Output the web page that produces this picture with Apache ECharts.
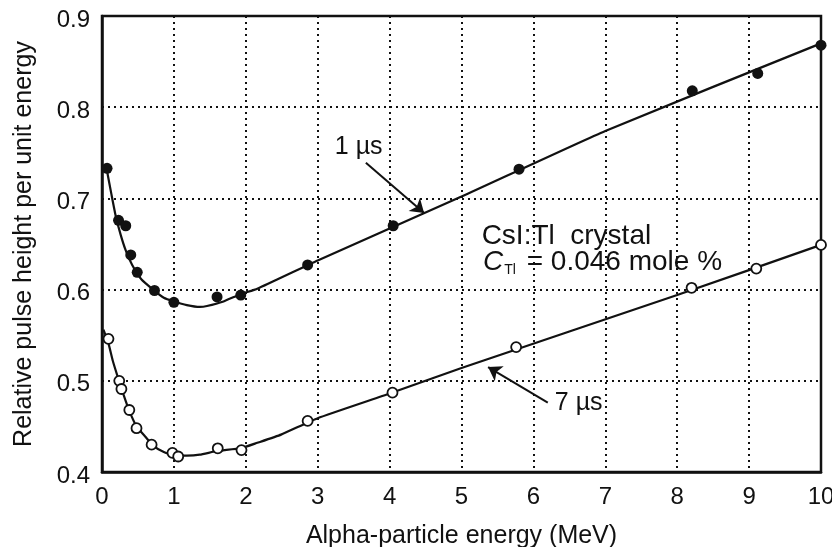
<!DOCTYPE html>
<html>
<head>
<meta charset="utf-8">
<script src="https://cdn.jsdelivr.net/npm/echarts@6/dist/echarts.min.js"></script>
<style>html,body{margin:0;padding:0;background:#fff}#c{width:832px;height:547px}</style>
</head>
<body>
<div id="c"></div>
<script>
// measured points, 1 µs shaping time (filled circles)
const energy1 = [0.07,0.23,0.33,0.40,0.49,0.73,1.0,1.6,1.93,2.86,4.05,5.8,8.21,9.12,10];
const value1  = [0.733,0.676,0.670,0.638,0.619,0.599,0.586,0.592,0.594,0.627,0.670,0.732,0.818,0.837,0.868];
// measured points, 7 µs shaping time (open circles)
const energy7 = [0.09,0.24,0.27,0.38,0.48,0.69,0.98,1.06,1.61,1.94,2.86,4.04,5.76,8.2,9.1,10];
const value7  = [0.546,0.500,0.491,0.468,0.448,0.430,0.421,0.417,0.426,0.424,0.456,0.487,0.537,0.602,0.623,0.649];
// fitted curves
const fit1E = [0.07,0.13,0.19,0.26,0.33,0.42,0.55,0.71,0.86,1.0,1.18,1.36,1.46,1.69,1.93,2.16,3,5,7,10];
const fit1V = [0.730,0.705,0.681,0.660,0.643,0.627,0.611,0.600,0.591,0.587,0.583,0.581,0.582,0.587,0.595,0.601,0.632,0.702,0.774,0.870];
const fit7E = [0.02,0.09,0.15,0.22,0.29,0.37,0.48,0.60,0.71,0.86,1.02,1.18,1.36,1.6,1.93,2.16,2.49,3,4,5,8,10];
const fit7V = [0.556,0.541,0.522,0.504,0.487,0.469,0.450,0.439,0.429,0.422,0.418,0.418,0.419,0.423,0.426,0.432,0.441,0.459,0.486,0.514,0.594,0.649];
// axis ticks
const xTicks = [0,1,2,3,4,5,6,7,8,9,10];
const yTicks = [0.4,0.5,0.6,0.7,0.8,0.9];
// annotation texts
const label1 = '1 µs';
const label7 = '7 µs';
const crystalText = 'CsI:Tl  crystal';

const FONT = 'Liberation Sans, Arial, Helvetica, sans-serif';
const pair = (a, b) => a.map((v, i) => [v, b[i]]);
const dotted = { color: '#111', width: 2, type: [2, 4] };

const chart = echarts.init(document.getElementById('c'), null, { renderer: 'canvas' });
chart.setOption({
  backgroundColor: '#fff',
  animation: false,
  grid: { left: 102, right: 11, top: 16, bottom: 75, show: true, borderColor: '#111', borderWidth: 2.5,
          backgroundColor: 'transparent', containLabel: false, outerBoundsMode: 'none' },
  xAxis: {
    type: 'value', min: xTicks[0], max: xTicks[xTicks.length - 1], interval: 1,
    name: 'Alpha-particle energy (MeV)', nameLocation: 'middle', nameGap: 52,
    nameTextStyle: { fontSize: 25, color: '#111', fontFamily: FONT },
    axisLine: { show: true, lineStyle: { color: '#111', width: 2.5 } },
    axisTick: { show: false },
    axisLabel: { fontSize: 24, color: '#111', fontFamily: FONT, margin: 13 },
    splitLine: { show: true, lineStyle: dotted }
  },
  yAxis: {
    type: 'value', min: yTicks[0], max: yTicks[yTicks.length - 1], interval: 0.1,
    name: 'Relative pulse height per unit energy', nameLocation: 'middle', nameGap: 65,
    nameTextStyle: { fontSize: 25, color: '#111', fontFamily: FONT },
    axisLine: { show: true, lineStyle: { color: '#111', width: 2.5 } },
    axisTick: { show: false },
    axisLabel: { fontSize: 24, color: '#111', fontFamily: FONT, margin: 12,
                 verticalAlign: 'top', lineHeight: 8,
                 formatter: v => v.toFixed(1) },
    splitLine: { show: true, lineStyle: dotted }
  },
  series: [
    { type: 'line', data: pair(fit1E, fit1V), showSymbol: false, smooth: 0.15,
      lineStyle: { color: '#111', width: 2.2 }, z: 3, silent: true },
    { type: 'line', data: pair(fit7E, fit7V), showSymbol: false, smooth: 0.15,
      lineStyle: { color: '#111', width: 2.2 }, z: 3, silent: true },
    { type: 'scatter', data: pair(energy1, value1), symbol: 'circle', symbolSize: 11,
      itemStyle: { color: '#111', opacity: 1 }, z: 5 },
    { type: 'scatter', data: pair(energy7, value7), symbol: 'circle', symbolSize: 10,
      itemStyle: { color: '#fff', borderColor: '#111', borderWidth: 1.8, opacity: 1 }, z: 5 },
    { type: 'scatter', data: [], z: 6, itemStyle: { color: '#111' },
      markLine: {
        silent: true, symbol: ['none', 'arrow'], symbolSize: 13,
        itemStyle: { color: '#111' },
        lineStyle: { color: '#111', width: 2, type: 'solid' }, label: { show: false },
        data: [
          [{ coord: [3.67, 0.739] }, { coord: [4.48, 0.684] }],
          [{ coord: [6.20, 0.476] }, { coord: [5.37, 0.515] }]
        ]
      },
      markPoint: {
        silent: true, symbol: 'circle', symbolSize: 0,
        label: { show: true, color: '#111', fontFamily: FONT, fontSize: 25 },
        data: [
          { coord: [3.57, 0.756], label: { position: 'inside', formatter: label1 } },
          { coord: [6.63, 0.475], label: { position: 'inside', formatter: label7 } },
          { coord: [5.28, 0.658], label: { position: 'right', distance: 0, fontSize: 28, formatter: crystalText } },
          { coord: [5.30, 0.630], label: { position: 'right', distance: 0, formatter: '{i|C}{s|Tl}{n| = 0.046 mole %}',
              rich: {
                i: { fontStyle: 'italic', fontSize: 28, fontFamily: FONT, color: '#111' },
                s: { fontSize: 14, fontFamily: FONT, color: '#111', padding: [15, 3, 0, 1] },
                n: { fontSize: 28, fontFamily: FONT, color: '#111' }
              } } }
        ]
      }
    }
  ]
});
</script>
</body>
</html>
